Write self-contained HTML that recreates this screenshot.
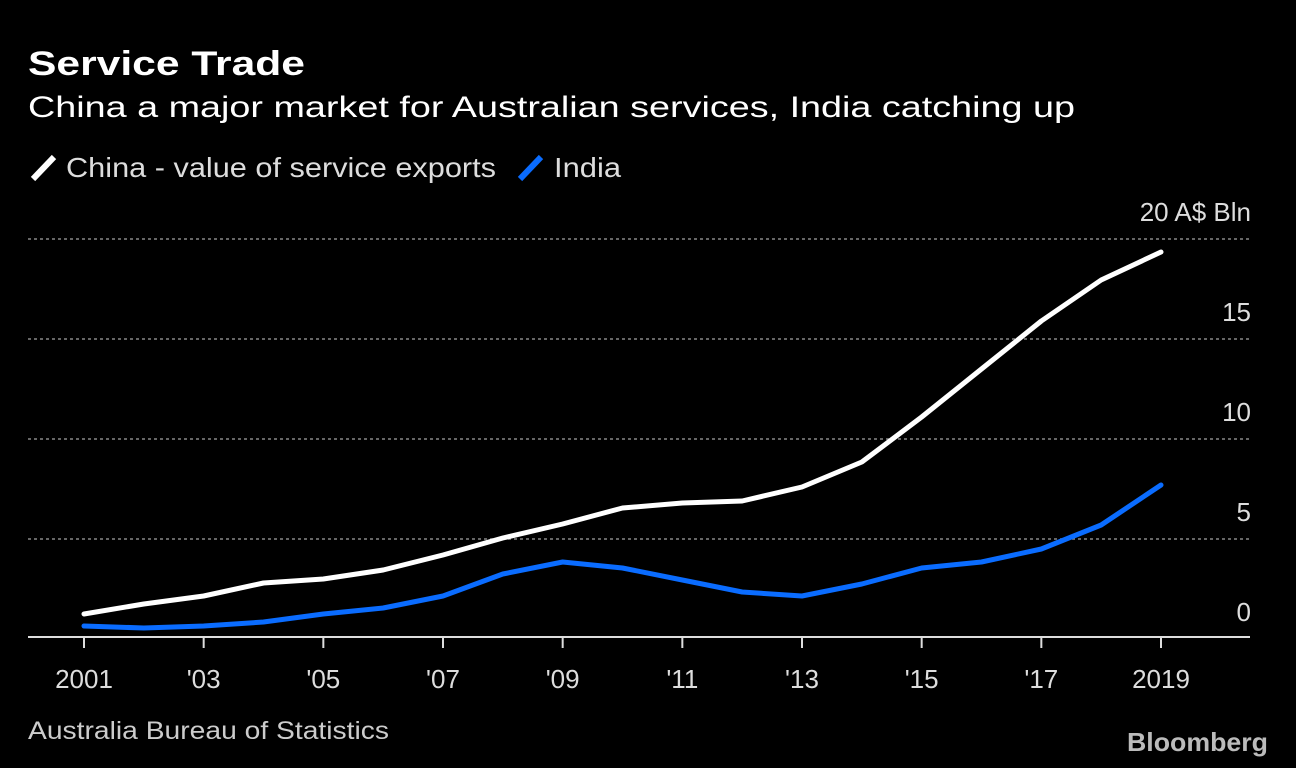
<!DOCTYPE html>
<html><head><meta charset="utf-8"><style>
html,body{margin:0;padding:0;background:#000;}
svg{display:block;font-family:"Liberation Sans","DejaVu Sans",sans-serif;}
</style></head><body>
<svg id="chart" width="1296" height="768" viewBox="0 0 1296 768">
<rect width="1296" height="768" fill="#000"/>
<text x="28" y="75" font-size="34" font-weight="bold" fill="#fff" textLength="277" lengthAdjust="spacingAndGlyphs">Service Trade</text>
<text x="28" y="117" font-size="30" fill="#fff" textLength="1047" lengthAdjust="spacingAndGlyphs">China a major market for Australian services, India catching up</text>
<g>
<line x1="33" y1="179" x2="54" y2="157" stroke="#fff" stroke-width="6"/>
<text x="66" y="177" font-size="28" fill="#ddd" textLength="430" lengthAdjust="spacingAndGlyphs">China - value of service exports</text>
<line x1="520" y1="179" x2="541" y2="157" stroke="#0a6cff" stroke-width="6"/>
<text x="554" y="177" font-size="28" fill="#ddd" textLength="67" lengthAdjust="spacingAndGlyphs">India</text>
</g>
<g id="grid"></g><g id="xaxis"></g><g id="series"></g>
<text x="28" y="739" font-size="25" fill="#ccc" textLength="361" lengthAdjust="spacingAndGlyphs">Australia Bureau of Statistics</text>
<text x="1268" y="751" font-size="26" font-weight="bold" fill="#bbb" text-anchor="end" textLength="141" lengthAdjust="spacingAndGlyphs">Bloomberg</text>
</svg>
<script>
const years=[2001,2002,2003,2004,2005,2006,2007,2008,2009,2010,2011,2012,2013,2014,2015,2016,2017,2018,2019];
const china=[1.25,1.75,2.15,2.8,3.0,3.45,4.2,5.05,5.75,6.55,6.8,6.9,7.6,8.85,11.1,13.5,15.9,17.95,19.35];
const india=[0.65,0.55,0.65,0.85,1.25,1.55,2.15,3.25,3.85,3.55,2.95,2.35,2.15,2.75,3.55,3.85,4.5,5.7,7.7];
const yTicks=[0,5,10,15,20];
const yTickLabels=["0","5","10","15","20 A$ Bln"];
const xTickYears=[2001,2003,2005,2007,2009,2011,2013,2015,2017,2019];
const xTickLabels=["2001","'03","'05","'07","'09","'11","'13","'15","'17","2019"];
const NS="http://www.w3.org/2000/svg";
const x=v=>84+(v-2001)*(1161-84)/18;
const y=v=>639-v*20;
function mk(t,a,p){const e=document.createElementNS(NS,t);for(const k in a)e.setAttribute(k,a[k]);p.appendChild(e);return e;}
const grid=document.getElementById('grid');
yTicks.forEach((v,i)=>{
 if(v>0){const l=mk('line',{x1:28,x2:1250,y1:y(v),y2:y(v),stroke:'#888','stroke-width':1.5,'stroke-dasharray':'3,3'},grid);
 
 }
 const t=mk('text',{x:1251,y:y(v)-18,'font-size':26,fill:'#ddd','text-anchor':'end'},grid);
 t.textContent=yTickLabels[i];
 
 
});
const xa=document.getElementById('xaxis');
const base=mk('line',{x1:28,x2:1250,y1:637,y2:637,stroke:'#ddd','stroke-width':2},xa);


xTickYears.forEach((yr,i)=>{
 const tk=mk('line',{x1:x(yr),x2:x(yr),y1:637,y2:648,stroke:'#ddd','stroke-width':2},xa);
 
 
 const t=mk('text',{x:x(yr),y:688,'font-size':26,fill:'#ddd','text-anchor':'middle'},xa);
 t.textContent=xTickLabels[i];
 
 
});
const s=document.getElementById('series');
function line(vals,col,name){
 const p=mk('polyline',{points:vals.map((v,i)=>x(years[i])+','+y(v)).join(' '),fill:'none',stroke:col,'stroke-width':5,'stroke-linejoin':'round','stroke-linecap':'round'},s);
 
 
}
line(india,'#0a6cff','india-line');
line(china,'#ffffff','china-line');
</script>
</body></html>
